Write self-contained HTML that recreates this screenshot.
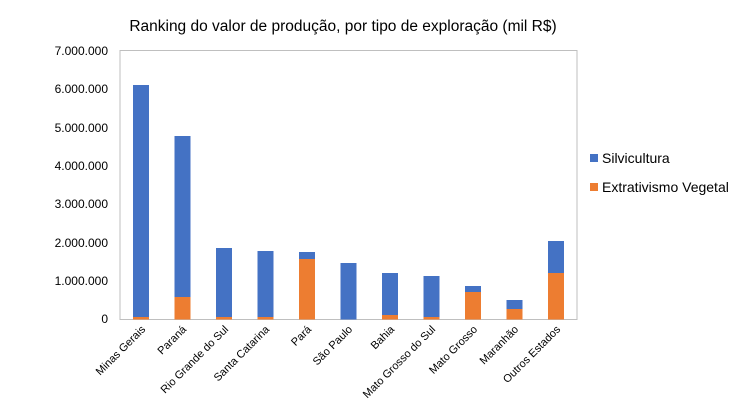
<!DOCTYPE html>
<html><head><style>body{margin:0;background:#fff}svg{display:block}text{font-family:"Liberation Sans",sans-serif}</style></head><body>
<svg width="756" height="414" xmlns="http://www.w3.org/2000/svg">
<text x="343" y="31" font-size="15.5" text-anchor="middle" fill="#000">Ranking do valor de produção, por tipo de exploração (mil R$)</text>
<rect x="120" y="50.5" width="457" height="269" fill="none" stroke="#bfbfbf" stroke-width="1"/>
<g font-size="12" fill="#000" text-anchor="end">
<text x="108" y="55">7.000.000</text><text x="108" y="93">6.000.000</text><text x="108" y="132">5.000.000</text><text x="108" y="170">4.000.000</text><text x="108" y="208">3.000.000</text><text x="108" y="247">2.000.000</text><text x="108" y="285">1.000.000</text><text x="108" y="323">0</text>
</g>
<g fill="#4472c4">
<rect x="133" y="85" width="16" height="234.5"/>
<rect x="174.5" y="136" width="16" height="183.5"/>
<rect x="216" y="248" width="16" height="71.5"/>
<rect x="257.5" y="251" width="16" height="68.5"/>
<rect x="299" y="252" width="16" height="67.5"/>
<rect x="340.5" y="263" width="16" height="56.5"/>
<rect x="382" y="273" width="16" height="46.5"/>
<rect x="423.5" y="276" width="16" height="43.5"/>
<rect x="465" y="286" width="16" height="33.5"/>
<rect x="506.5" y="300" width="16" height="19.5"/>
<rect x="548" y="241" width="16" height="78.5"/>
</g>
<g fill="#ed7d31">
<rect x="133" y="317" width="16" height="2.5"/>
<rect x="174.5" y="297" width="16" height="22.5"/>
<rect x="216" y="317" width="16" height="2.5"/>
<rect x="257.5" y="317" width="16" height="2.5"/>
<rect x="299" y="259" width="16" height="60.5"/>
<rect x="382" y="315" width="16" height="4.5"/>
<rect x="423.5" y="317" width="16" height="2.5"/>
<rect x="465" y="292" width="16" height="27.5"/>
<rect x="506.5" y="309" width="16" height="10.5"/>
<rect x="548" y="273" width="16" height="46.5"/>
</g>
<g font-size="11" fill="#000" text-anchor="end">
<text transform="translate(146,330) rotate(-45)">Minas Gerais</text>
<text transform="translate(187,330) rotate(-45)">Paraná</text>
<text transform="translate(229,330) rotate(-45)">Rio Grande do Sul</text>
<text transform="translate(270,330) rotate(-45)">Santa Catarina</text>
<text transform="translate(312,330) rotate(-45)">Pará</text>
<text transform="translate(353,330) rotate(-45)">São Paulo</text>
<text transform="translate(395,330) rotate(-45)">Bahia</text>
<text transform="translate(436,330) rotate(-45)">Mato Grosso do Sul</text>
<text transform="translate(478,330) rotate(-45)">Mato Grosso</text>
<text transform="translate(519,330) rotate(-45)">Maranhão</text>
<text transform="translate(561,330) rotate(-45)">Outros Estados</text>
</g>
<rect x="590" y="154" width="8" height="8" fill="#4472c4"/>
<text x="602" y="163" font-size="14">Silvicultura</text>
<rect x="590" y="183" width="8" height="8" fill="#ed7d31"/>
<text x="602" y="192" font-size="14">Extrativismo Vegetal</text>
</svg>
</body></html>
